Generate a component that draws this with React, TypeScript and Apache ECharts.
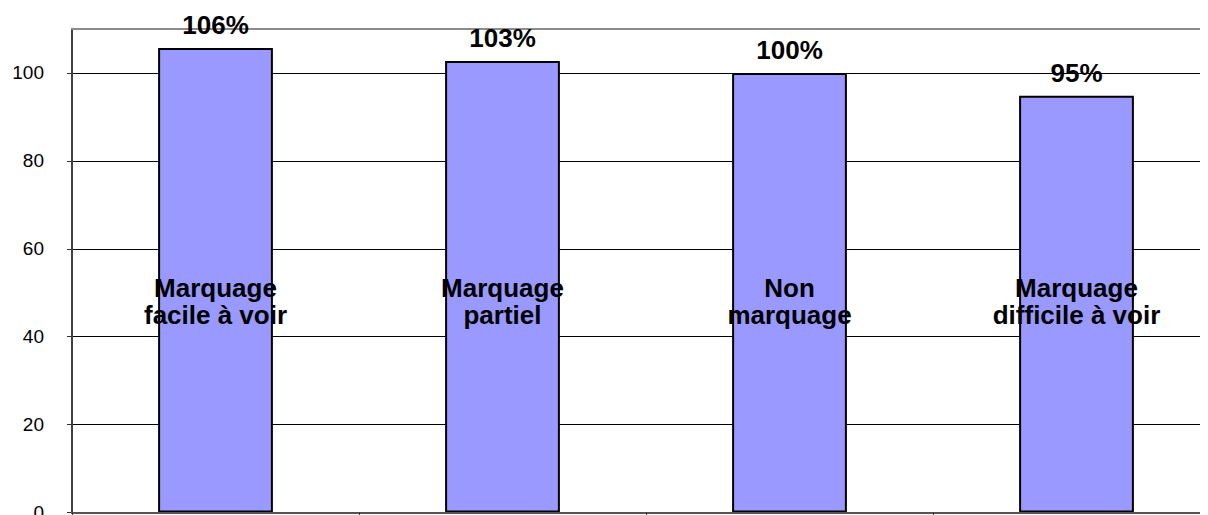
import React, { useEffect, useRef } from "react";
import * as echarts from "echarts";

const categories = [
  "Marquage\nfacile à voir",
  "Marquage\npartiel",
  "Non\nmarquage",
  "Marquage\ndifficile à voir",
];
const values = [105.7, 102.7, 100, 94.8];
const yTicks = [0, 20, 40, 60, 80, 100];

const FONT = "'Liberation Sans', Arial, sans-serif";

export default function App() {
  const ref = useRef<HTMLDivElement>(null);
  useEffect(() => {
    if (!ref.current) return;
    document.documentElement.style.overflow = "hidden";
    document.body.style.overflow = "hidden";
    const chart = echarts.init(ref.current, null, { renderer: "svg" });
    chart.setOption({
      animation: false,
      backgroundColor: "#ffffff",
      grid: {
        left: 64,
        top: 21,
        right: 8,
        bottom: 2.5,
        outerBoundsMode: "none",
        containLabel: false,
        show: false,
      },
      xAxis: [
        {
          type: "category",
          data: categories,
          z: 10,
          axisLine: { lineStyle: { color: "#555555", width: 2 } },
          axisTick: { show: true, length: 5, inside: false, lineStyle: { color: "#333" } },
          axisLabel: {
            margin: -238,
            color: "#000",
            fontFamily: FONT,
            fontWeight: "bold",
            fontSize: 26,
            lineHeight: 27,
            interval: 0,
          },
          splitLine: { show: false },
        },
        {
          type: "category",
          data: categories,
          position: "top",
          z: 1,
          axisLine: { show: true, lineStyle: { color: "#8c8c8c", width: 2 } },
          axisTick: { show: false },
          axisLabel: { show: false },
          splitLine: { show: false },
        },
      ],
      yAxis: {
        type: "value",
        min: 0,
        max: 110,
        interval: 20,
        axisLine: { show: true, lineStyle: { color: "#404040", width: 2 } },
        axisTick: { show: true, length: 5, lineStyle: { color: "#333" } },
        axisLabel: {
          margin: 28,
          color: "#000",
          fontFamily: FONT,
          fontSize: 19,
          showMaxLabel: false,
          formatter: (v: number) => (yTicks.includes(v) ? String(v) : ""),
        },
        splitLine: { show: true, lineStyle: { color: "#000", width: 1 } },
      },
      series: [
        {
          type: "bar",
          data: values,
          barWidth: "40%",
          z: 3,
          itemStyle: { color: "#9999ff", borderColor: "#000", borderWidth: 2 },
          label: {
            show: true,
            position: "top",
            distance: 10,
            color: "#000",
            fontFamily: FONT,
            fontWeight: "bold",
            fontSize: 26,
            formatter: (p: any) => Math.round(p.value) + "%",
          },
        },
      ],
    });
    return () => chart.dispose();
  }, []);
  return <div ref={ref} style={{ width: 1220, height: 507 }} />;
}
